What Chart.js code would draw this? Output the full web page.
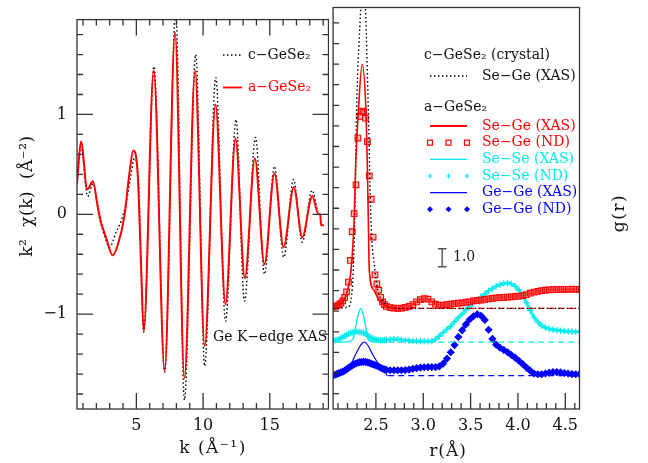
<!DOCTYPE html>
<html>
<head>
<meta charset="utf-8">
<script src="https://cdn.jsdelivr.net/npm/chart.js@4.4.1/dist/chart.umd.min.js"></script>
<style>
    html, body { margin: 0; padding: 0; background: #fff; }
    #wrap { position: relative; width: 648px; height: 463px; overflow: hidden; }
    #left { position: absolute; left: 0; top: 0; }
    #right { position: absolute; left: 328px; top: 0; }
</style>
</head>
<body>
<div id="wrap">
    <canvas id="left" width="329" height="463" style="width:329px;height:463px"></canvas>
    <canvas id="right" width="320" height="463" style="width:320px;height:463px"></canvas>
</div>
<script>
// --- Left panel: k^2 chi(k), Ge K-edge EXAFS ---
const K_AMORPH = [0.55, 0.85, 1.32, 1.74, 2.1, 2.35, 2.72, 3.22, 3.6, 4.1,
    4.47, 4.77, 5.1, 5.35, 5.55, 6.3, 7.12, 7.9, 8.6, 9.4,
    10.12, 10.93, 11.68, 12.43, 13.13, 13.88, 14.6, 15.35, 16.03, 16.8,
    17.43, 18.18, 18.65, 18.78, 18.84, 19.05];
const CHI_AMORPH = [0.31, 0.73, 0.25, 0.33, 0.08, -0.08, -0.23, -0.41, -0.31, -0.02,
    0.40, 0.64, 0.40, -0.5, -1.17, 1.44, -1.57, 1.82, -1.64, 1.44,
    -1.32, 1.10, -0.90, 0.76, -0.64, 0.56, -0.50, 0.41, -0.33, 0.27,
    -0.23, 0.18, 0.0, 0.0, -0.11, -0.11];

const K_CRYST = [0.55, 0.85, 1.35, 1.75, 2.2, 2.6, 2.98, 3.48, 3.85, 4.23,
    4.6, 4.85, 5.17, 5.55, 6.32, 7.12, 7.95, 8.6, 9.45, 10.12,
    10.95, 11.68, 12.47, 13.1, 13.93, 14.6, 15.35, 16.05, 16.78, 17.43,
    18.17, 18.6];
const CHI_CRYST = [0.31, 0.68, 0.18, 0.31, -0.02, -0.21, -0.33, -0.18, -0.07, 0.11,
    0.40, 0.56, 0.30, -1.18, 1.48, -1.58, 2.05, -1.86, 1.60, -1.52,
    1.37, -1.07, 0.95, -0.87, 0.77, -0.60, 0.48, -0.43, 0.35, -0.28,
    0.24, 0.02];

const K_TICK_LABELS = [5, 10, 15];
const CHI_TICK_LABELS = [-1, 0, 1];

// --- Right panel: partial g(r), shifted curves ---
const R_SEGE_XAS = [2.05, 2.13, 2.2, 2.237, 2.27, 2.286, 2.315, 2.355, 2.395, 2.41, 2.42, 2.43, 2.48, 2.53, 2.63, 2.7];
const G_SEGE_XAS = [-5.39, -5.3, -4.56, -3.44, -0.67, 2.3, 5.4, 7.98, 5.4, 2.3, -0.67, -3.44, -4.56, -5.1, -5.48, -5.56];

const R_CRYST = [2.05, 2.2, 2.25, 2.275, 2.296, 2.34, 2.365, 2.39, 2.42, 2.448, 2.49, 2.52, 2.565, 2.65, 2.75, 4.65];
const G_CRYST = [-5.56, -5.5, -4.5, -1.0, 5.44, 11.15, 14.0, 11.15, 5.44, -0.67, -3.44, -4.56, -5.1, -5.5, -5.56, -5.56];

const R_SESE_XAS = [2.05, 2.2, 2.255, 2.29, 2.315, 2.34, 2.365, 2.39, 2.42, 2.5, 2.62];
const G_SESE_XAS = [-7.44, -7.42, -7.3, -6.5, -5.85, -5.57, -5.85, -6.5, -7.3, -7.44, -7.44];

const R_GEGE_XAS = [2.05, 2.2, 2.29, 2.34, 2.376, 2.42, 2.46, 2.55, 2.6, 2.62];
const G_GEGE_XAS = [-9.3, -9.0, -8.07, -7.6, -7.43, -7.65, -8.07, -8.82, -9.1, -9.3];

const R_BASELINE = [2.63, 4.65];
const SEGE_BASE = -5.56;
const SESE_BASE = -7.44;
const GEGE_BASE = -9.3;

const R_ND = [2.05, 2.07, 2.09, 2.11, 2.13, 2.15, 2.17, 2.19, 2.21, 2.23,
    2.25, 2.27, 2.29, 2.31, 2.33, 2.35, 2.37, 2.39, 2.41, 2.43,
    2.45, 2.47, 2.49, 2.51, 2.53, 2.55, 2.57, 2.59, 2.61,
    2.65, 2.69, 2.73, 2.77, 2.81, 2.85, 2.89, 2.93, 2.97, 3.01,
    3.05, 3.09, 3.13, 3.17, 3.21, 3.25, 3.29, 3.33, 3.37, 3.41,
    3.45, 3.49, 3.53, 3.57, 3.61, 3.65, 3.69, 3.73, 3.77, 3.81,
    3.85, 3.89, 3.93, 3.97, 4.01, 4.05, 4.09, 4.13, 4.17, 4.21,
    4.25, 4.29, 4.33, 4.37, 4.41, 4.45, 4.49, 4.53, 4.57, 4.61, 4.65];
const G_SEGE_ND = [-5.45, -5.45, -5.42, -5.35, -5.27, -5.15, -4.95, -4.65, -4.1, -2.9,
    -1.3, -0.3, 1.3, 3.9, 5.1, 5.4, 5.35, 5.0, 3.7, 1.8,
    0.5, -1.6, -3.7, -4.2, -4.55, -4.95, -5.2, -5.35, -5.45,
    -5.52, -5.55, -5.56, -5.55, -5.5, -5.45, -5.35, -5.2, -5.08, -5.02,
    -5.05, -5.2, -5.33, -5.39, -5.38, -5.35, -5.33, -5.3, -5.27, -5.25,
    -5.22, -5.2, -5.15, -5.12, -5.1, -5.06, -5.03, -5.0, -4.98, -4.97,
    -4.95, -4.93, -4.92, -4.9, -4.88, -4.85, -4.8, -4.72, -4.66, -4.62,
    -4.58, -4.55, -4.53, -4.52, -4.52, -4.5, -4.5, -4.5, -4.49, -4.5, -4.5];
const G_SESE_ND = [-7.33, -7.33, -7.3, -7.27, -7.22, -7.16, -7.1, -7.04, -6.98, -6.93,
    -6.9, -6.87, -6.86, -6.86, -6.88, -6.9, -6.93, -6.97, -7.05, -7.12,
    -7.2, -7.25, -7.28, -7.3, -7.32, -7.33, -7.33, -7.32, -7.3,
    -7.28, -7.27, -7.28, -7.3, -7.33, -7.35, -7.37, -7.38, -7.39, -7.39,
    -7.39, -7.38, -7.28, -7.1, -6.9, -6.72, -6.55, -6.3, -6.08, -5.87,
    -5.65, -5.44, -5.25, -5.08, -4.92, -4.76, -4.59, -4.46, -4.33, -4.24,
    -4.18, -4.15, -4.2, -4.33, -4.55, -4.83, -5.25, -5.67, -6.05, -6.32,
    -6.52, -6.63, -6.7, -6.74, -6.77, -6.8, -6.82, -6.84, -6.85, -6.86, -6.87];
const G_GEGE_ND = [-9.27, -9.25, -9.2, -9.16, -9.12, -9.08, -9.02, -8.95, -8.87, -8.8,
    -8.73, -8.67, -8.62, -8.58, -8.55, -8.54, -8.53, -8.54, -8.56, -8.59,
    -8.63, -8.67, -8.71, -8.75, -8.8, -8.86, -8.91, -8.95, -8.97,
    -9.0, -9.0, -9.0, -9.0, -8.99, -8.96, -8.92, -8.88, -8.85, -8.83,
    -8.82, -8.82, -8.82, -8.78, -8.63, -8.35, -8.0, -7.6, -7.15, -6.78,
    -6.45, -6.18, -6.0, -5.89, -5.97, -6.2, -6.75, -7.25, -7.58, -7.75,
    -7.87, -8.0, -8.15, -8.3, -8.47, -8.65, -8.85, -9.02, -9.18, -9.22,
    -9.22, -9.18, -9.13, -9.1, -9.1, -9.12, -9.15, -9.18, -9.21, -9.22, -9.22];

const R_TICK_LABELS = [2.5, 3.0, 3.5, 4.0, 4.5];

// scale bar of 1.0 in g(r)
const BAR_R = 3.2;
const BAR_TOP = -2.25;
const BAR_LEN = 1.0;

// axis ranges
const K_MIN = 0.55, K_MAX = 19.4;
const CHI_MIN = -1.95, CHI_MAX = 1.95;
const R_MIN = 2.048, R_MAX = 4.65;
const G_MIN = -11.15, G_MAX = 11.15;

const FONT = '"DejaVu Serif", serif';
const RED = '#ff0000';
const CYAN = '#00ecec';
const BLUE = '#0000ff';
const INK = '#111';
const RIGHT_OFFSET = 328;

const pts = (xs, ys) => xs.map((x, i) => ({ x: x, y: ys[i] }));

function txt(ctx, s, x, y, opt = {}) {
    ctx.save();
    ctx.font = (opt.size || 14) + 'px ' + FONT;
    ctx.fillStyle = opt.color || INK;
    ctx.textAlign = opt.align || 'left';
    ctx.textBaseline = 'middle';
    if ('letterSpacing' in ctx) ctx.letterSpacing = (opt.spacing || 0) + 'px';
    ctx.translate(x, y);
    if (opt.rot) ctx.rotate(opt.rot);
    ctx.fillText(s, 0, 0);
    ctx.restore();
}

function seg(ctx, x1, y1, x2, y2, color, width, dash) {
    ctx.save();
    ctx.strokeStyle = color;
    ctx.lineWidth = width;
    ctx.setLineDash(dash || []);
    ctx.beginPath();
    ctx.moveTo(x1, y1);
    ctx.lineTo(x2, y2);
    ctx.stroke();
    ctx.restore();
}

// frame plus inward tick marks
function drawFrame(chart, xt, yt, sides) {
    const { ctx, chartArea: a, scales } = chart;
    ctx.save();
    ctx.strokeStyle = '#333';
    ctx.lineWidth = 1.3;
    ctx.strokeRect(a.left, a.top, a.right - a.left, a.bottom - a.top);
    ctx.beginPath();
    xt.forEach(t => {
        const px = scales.x.getPixelForValue(t.v);
        const len = t.major ? 16 : 6;
        if (sides.bottom) { ctx.moveTo(px, a.bottom); ctx.lineTo(px, a.bottom - len); }
        if (sides.top) { ctx.moveTo(px, a.top); ctx.lineTo(px, a.top + len); }
    });
    yt.forEach(t => {
        const py = scales.y.getPixelForValue(t.v);
        const len = t.major ? 16 : 6;
        if (sides.left) { ctx.moveTo(a.left, py); ctx.lineTo(a.left + len, py); }
        if (sides.right) { ctx.moveTo(a.right, py); ctx.lineTo(a.right - len, py); }
    });
    ctx.stroke();
    ctx.restore();
}

const leftXTicks = [];
for (let k = 1; k <= 19; k++) leftXTicks.push({ v: k, major: k % 5 === 0 });
const leftYTicks = [];
for (let i = -9; i <= 9; i++) leftYTicks.push({ v: i * 0.2, major: i % 5 === 0 });
const rightXTicks = [];
for (let i = 21; i <= 46; i++) rightXTicks.push({ v: i / 10, major: i % 5 === 0 });
// right frame shares the tick rows of the left frame
const rightYTicks = leftYTicks.map(t => ({ v: t.v * G_MAX / CHI_MAX, major: false }));

const leftDecor = {
    id: 'leftDecor',
    afterDraw(chart) {
        const ctx = chart.ctx;
        drawFrame(chart, leftXTicks, leftYTicks, { bottom: true, top: true, left: true, right: true });
        txt(ctx, 'k\u00b2  \u03c7(k)  (\u00c5\u207b\u00b2)', 28, 196, { size: 17, align: 'center', rot: -Math.PI / 2, spacing: 0.5 });
        txt(ctx, 'k (\u00c5\u207b\u00b9)', 213, 449, { size: 17, align: 'center', spacing: 1.5 });
        seg(ctx, 223, 55, 242, 55, '#000', 1.4, [1.5, 2.5]);
        txt(ctx, 'c\u2212GeSe\u2082', 248, 55, { size: 14 });
        seg(ctx, 223, 87.5, 242, 87.5, RED, 1.8);
        txt(ctx, 'a\u2212GeSe\u2082', 248, 87.5, { size: 14, color: RED });
        txt(ctx, 'Ge K\u2212edge XAS', 213, 337, { size: 14 });
    }
};

const RIGHT_LEGEND = [
    { label: 'Se\u2212Ge (XAS)', color: RED, kind: 'line' },
    { label: 'Se\u2212Ge (ND)', color: RED, kind: 'square' },
    { label: 'Se\u2212Se (XAS)', color: CYAN, kind: 'line' },
    { label: 'Se\u2212Se (ND)', color: CYAN, kind: 'cross' },
    { label: 'Ge\u2212Ge (XAS)', color: BLUE, kind: 'line' },
    { label: 'Ge\u2212Ge (ND)', color: BLUE, kind: 'diamond' }
];

function marker(ctx, kind, x, y, color) {
    ctx.save();
    ctx.strokeStyle = color;
    ctx.fillStyle = color;
    ctx.lineWidth = 1.2;
    if (kind === 'square') {
        ctx.strokeRect(x - 2.5, y - 2.5, 5, 5);
    } else if (kind === 'cross') {
        ctx.beginPath();
        ctx.moveTo(x - 2.5, y); ctx.lineTo(x + 2.5, y);
        ctx.moveTo(x, y - 2.5); ctx.lineTo(x, y + 2.5);
        ctx.stroke();
    } else {
        ctx.beginPath();
        ctx.moveTo(x, y - 3); ctx.lineTo(x + 3, y); ctx.lineTo(x, y + 3); ctx.lineTo(x - 3, y);
        ctx.closePath();
        ctx.fill();
    }
    ctx.restore();
}

const rightDecor = {
    id: 'rightDecor',
    afterDraw(chart) {
        const ctx = chart.ctx;
        const o = RIGHT_OFFSET;
        drawFrame(chart, rightXTicks, rightYTicks, { bottom: true, top: false, left: true, right: false });
        txt(ctx, 'c\u2212GeSe\u2082 (crystal)', 424 - o, 55, { size: 14 });
        seg(ctx, 430 - o, 76, 467 - o, 76, '#000', 1.4, [1.5, 2.5]);
        txt(ctx, 'Se\u2212Ge (XAS)', 482 - o, 76, { size: 14 });
        txt(ctx, 'a\u2212GeSe\u2082', 424 - o, 107, { size: 14 });
        RIGHT_LEGEND.forEach((item, i) => {
            const y = 126 + i * 16.67;
            if (item.kind === 'line') {
                seg(ctx, 430 - o, y, 467 - o, y, item.color, item.color === RED ? 1.8 : 1.3);
            } else {
                [430, 448.5, 467].forEach(x => marker(ctx, item.kind, x - o, y, item.color));
            }
            txt(ctx, item.label, 482 - o, y, { size: 14, color: item.color });
        });
        const ys = chart.scales.y;
        const barMid = ys.getPixelForValue(BAR_TOP - BAR_LEN / 2);
        txt(ctx, '1.0', 453 - o, barMid, { size: 14, color: '#222' });
        txt(ctx, 'r(\u00c5)', 448 - o, 452, { size: 17, align: 'center', spacing: 1 });
        txt(ctx, 'g(r)', 620 - o, 213, { size: 17, align: 'center', rot: -Math.PI / 2, spacing: 1.5 });
    }
};

const tickFont = { family: FONT, size: 16 };
const minus = v => (v < 0 ? '\u2212' + Math.abs(v) : String(v));

// --- Left chart ---
new Chart(document.getElementById('left'), {
    type: 'line',
    data: {
        datasets: [
            {
                data: pts(K_AMORPH, CHI_AMORPH),
                borderColor: RED, borderWidth: 2,
                cubicInterpolationMode: 'monotone', pointRadius: 0, fill: false
            },
            {
                data: pts(K_CRYST, CHI_CRYST),
                borderColor: '#000', borderWidth: 1.4, borderDash: [1.5, 2.5],
                cubicInterpolationMode: 'monotone', pointRadius: 0, fill: false
            }
        ]
    },
    options: {
        responsive: false,
        animation: false,
        devicePixelRatio: 1,
        layout: { padding: { left: 0, right: 0.5, top: 7.5, bottom: 0 } },
        plugins: { legend: { display: false }, tooltip: { enabled: false } },
        scales: {
            x: {
                type: 'linear', min: K_MIN, max: K_MAX,
                afterFit: s => { s.height = 54; },
                afterBuildTicks: s => { s.ticks = K_TICK_LABELS.map(v => ({ value: v })); },
                grid: { display: false, drawTicks: false },
                border: { display: false },
                ticks: { font: tickFont, color: INK, padding: 7, maxRotation: 0 }
            },
            y: {
                type: 'linear', min: CHI_MIN, max: CHI_MAX,
                afterFit: s => { s.width = 77; },
                afterBuildTicks: s => { s.ticks = CHI_TICK_LABELS.map(v => ({ value: v })); },
                grid: { display: false, drawTicks: false },
                border: { display: false },
                ticks: { font: tickFont, color: INK, padding: 10, callback: minus }
            }
        }
    },
    plugins: [leftDecor]
});

// --- Right chart ---
const lineSet = (xs, ys, color, width, dash) => ({
    data: pts(xs, ys), borderColor: color, borderWidth: width, borderDash: dash || [],
    cubicInterpolationMode: 'monotone', pointRadius: 0, fill: false
});
// neutron data: dense markers, joined by a thick band where the curve is not too steep
const ndSet = (ys, color, band, style, radius, bg, lw, steep) => ({
    data: pts(R_ND, ys), showLine: true, borderColor: band, borderWidth: lw,
    cubicInterpolationMode: 'monotone', pointStyle: style, pointRadius: radius,
    pointBorderColor: color, pointBackgroundColor: bg, pointBorderWidth: 1.1,
    segment: {
        borderColor: c => (Math.abs(c.p1.y - c.p0.y) > steep ? 'rgba(0,0,0,0)' : band)
    }
});

new Chart(document.getElementById('right'), {
    type: 'line',
    data: {
        datasets: [
            lineSet(R_SEGE_XAS, G_SEGE_XAS, RED, 1.6),
            lineSet(R_SESE_XAS, G_SESE_XAS, CYAN, 1.3),
            lineSet(R_GEGE_XAS, G_GEGE_XAS, BLUE, 1.2),
            lineSet(R_CRYST, G_CRYST, '#000', 1.4, [1.5, 2.5]),
            lineSet(R_BASELINE, [SEGE_BASE, SEGE_BASE], RED, 1.2, [6, 4]),
            lineSet(R_BASELINE, [SESE_BASE, SESE_BASE], CYAN, 1.2, [6, 4]),
            lineSet(R_BASELINE, [GEGE_BASE, GEGE_BASE], BLUE, 1.2, [6, 4]),
            lineSet([BAR_R, BAR_R], [BAR_TOP, BAR_TOP - BAR_LEN], '#555', 1.4),
            lineSet([BAR_R - 0.045, BAR_R + 0.045], [BAR_TOP, BAR_TOP], '#555', 1.4),
            lineSet([BAR_R - 0.045, BAR_R + 0.045], [BAR_TOP - BAR_LEN, BAR_TOP - BAR_LEN], '#555', 1.4),
            ndSet(G_SEGE_ND, RED, 'rgba(255,0,0,0.55)', 'rect', 4, 'rgba(255,60,60,0.35)', 3, 4),
            ndSet(G_SESE_ND, CYAN, 'rgba(0,236,236,0.8)', 'cross', 3.3, CYAN, 3.5, 100),
            ndSet(G_GEGE_ND, BLUE, 'rgba(0,0,255,0.85)', 'rectRot', 3.3, BLUE, 3.5, 6)
        ]
    },
    options: {
        responsive: false,
        animation: false,
        devicePixelRatio: 1,
        layout: { padding: { left: 0.5, right: 68.5, top: 7.5, bottom: 0 } },
        plugins: { legend: { display: false }, tooltip: { enabled: false } },
        scales: {
            x: {
                type: 'linear', min: R_MIN, max: R_MAX,
                afterFit: s => { s.height = 54; },
                afterBuildTicks: s => { s.ticks = R_TICK_LABELS.map(v => ({ value: v })); },
                grid: { display: false, drawTicks: false },
                border: { display: false },
                ticks: { font: tickFont, color: INK, padding: 7, maxRotation: 0, callback: v => Number(v).toFixed(1) }
            },
            y: {
                type: 'linear', min: G_MIN, max: G_MAX, display: false
            }
        }
    },
    plugins: [rightDecor]
});
</script>
</body>
</html>
